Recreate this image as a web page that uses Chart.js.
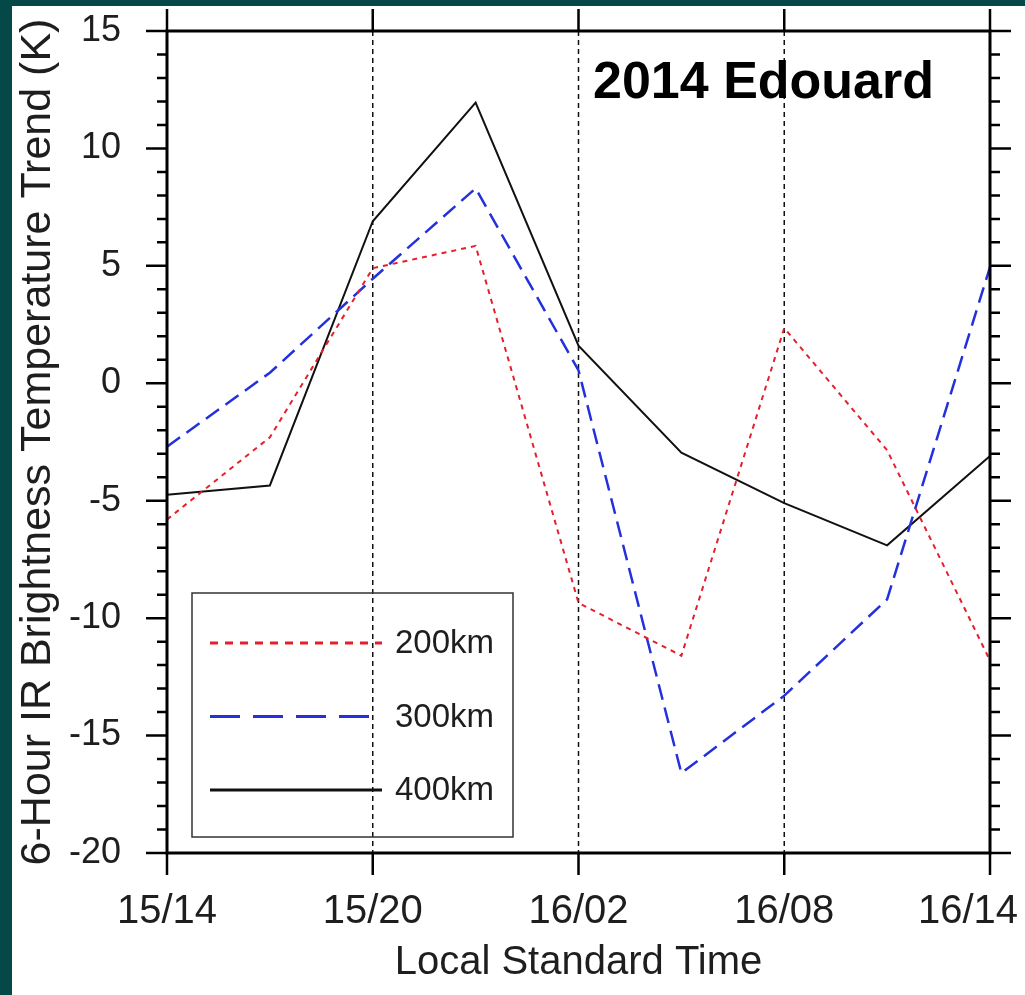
<!DOCTYPE html>
<html>
<head>
<meta charset="utf-8">
<title>2014 Edouard</title>
<script src="https://cdn.jsdelivr.net/npm/chart.js@4"></script>
<style>
    html, body { margin: 0; padding: 0; background: #044848; }
    #wrap { position: absolute; left: 12px; top: 6px; width: 1013px; height: 989px; background: #fff; }
</style>
</head>
<body>
<div id="wrap"><canvas id="myChart"></canvas></div>
<script>
// local standard time, day/hour, every 3 hours
const timeLabels = ['15/14', '15/17', '15/20', '15/23', '16/02', '16/05', '16/08', '16/11', '16/14'];
// 6-hour IR brightness temperature trend (K) averaged within each radius
const trend200km = [-5.8, -2.3, 4.9, 5.85, -9.35, -11.6, 2.35, -2.85, -11.8];
const trend300km = [-2.7, 0.45, 4.45, 8.3, 0.55, -16.6, -13.3, -9.2, 4.95];
const trend400km = [-4.75, -4.35, 6.9, 11.95, 1.6, -2.95, -5.1, -6.9, -3.1];
const yTicks = [-20, -15, -10, -5, 0, 5, 10, 15];
const chartTitle = '2014 Edouard';

const FONT = "'Liberation Sans', Arial, Helvetica, sans-serif";
const TEXT = '#1e1e1e';

// which x labels get a major tick / label (every 6 hours)
function isMajor(i) { return i % 2 === 0; }

const framePlugin = {
    id: 'frame',
    beforeDatasetsDraw(chart) {
        const ctx = chart.ctx, ca = chart.chartArea, x = chart.scales.x;
        ctx.save();
        ctx.strokeStyle = '#111';
        ctx.lineWidth = 1.5;
        ctx.setLineDash([5, 4]);
        timeLabels.forEach((t, i) => {
            if (!isMajor(i) || i === 0 || i === timeLabels.length - 1) return;
            const px = x.getPixelForValue(i);
            ctx.beginPath();
            ctx.moveTo(px, ca.top);
            ctx.lineTo(px, ca.bottom);
            ctx.stroke();
        });
        ctx.restore();
    },
    afterDatasetsDraw(chart) {
        const ctx = chart.ctx, ca = chart.chartArea;
        const x = chart.scales.x, y = chart.scales.y;
        ctx.save();
        ctx.strokeStyle = '#000';
        ctx.lineWidth = 3;
        ctx.strokeRect(ca.left, ca.top, ca.right - ca.left, ca.bottom - ca.top);

        // y ticks, both sides, pointing out
        ctx.lineWidth = 2.5;
        for (let v = y.min; v <= y.max; v++) {
            const py = y.getPixelForValue(v);
            const len = v % 5 === 0 ? 21 : 10;
            ctx.beginPath();
            ctx.moveTo(ca.left - len, py); ctx.lineTo(ca.left, py);
            ctx.moveTo(ca.right, py); ctx.lineTo(ca.right + len, py);
            ctx.stroke();
        }
        // x ticks top and bottom + labels
        ctx.font = '40px ' + FONT;
        ctx.fillStyle = TEXT;
        ctx.textAlign = 'center';
        ctx.textBaseline = 'middle';
        timeLabels.forEach((t, i) => {
            if (!isMajor(i)) return;
            const px = x.getPixelForValue(i);
            ctx.beginPath();
            ctx.moveTo(px, ca.top - 22); ctx.lineTo(px, ca.top);
            ctx.moveTo(px, ca.bottom); ctx.lineTo(px, ca.bottom + 22);
            ctx.stroke();
            const w = ctx.measureText(t).width;
            const lx = Math.min(px, chart.width - 7 - w / 2);
            ctx.fillText(t, lx, ca.bottom + 59);
        });

        // title inside the plot
        ctx.font = 'bold 52px ' + FONT;
        ctx.fillStyle = '#000';
        ctx.textAlign = 'left';
        ctx.textBaseline = 'alphabetic';
        ctx.fillText(chartTitle, ca.left + 426, ca.top + 67);

        // legend box
        const bx = ca.left + 25, by = ca.top + 562, bw = 321, bh = 244;
        ctx.lineWidth = 1.5;
        ctx.strokeStyle = '#333';
        ctx.strokeRect(bx, by, bw, bh);
        const legendDash = [[8, 7], [30, 13], []];
        ctx.font = '33px ' + FONT;
        ctx.textBaseline = 'middle';
        chart.data.datasets.forEach((ds, i) => {
            const ly = by + 50 + i * 73.5;
            ctx.strokeStyle = ds.borderColor;
            ctx.lineWidth = 3;
            ctx.setLineDash(legendDash[i]);
            ctx.beginPath();
            ctx.moveTo(bx + 18, ly);
            ctx.lineTo(bx + 190, ly);
            ctx.stroke();
            ctx.setLineDash([]);
            ctx.fillStyle = TEXT;
            ctx.fillText(ds.label, bx + 203, ly + 1);
        });
        ctx.restore();
    }
};

const ctx = document.getElementById('myChart').getContext('2d');
const myChart = new Chart(ctx, {
    type: 'line',
    data: {
        labels: timeLabels,
        datasets: [{
            label: '200km',
            data: trend200km,
            borderColor: '#e5202c',
            borderWidth: 2,
            borderDash: [5, 5]
        }, {
            label: '300km',
            data: trend300km,
            borderColor: '#2430dc',
            borderWidth: 2.5,
            borderDash: [16, 8]
        }, {
            label: '400km',
            data: trend400km,
            borderColor: '#111111',
            borderWidth: 2
        }]
    },
    options: {
        responsive: true,
        maintainAspectRatio: false,
        animation: false,
        elements: { point: { radius: 0, hoverRadius: 0 }, line: { tension: 0 } },
        layout: { padding: { top: 25, right: 35, left: 0, bottom: 0 } },
        plugins: { legend: { display: false }, tooltip: { enabled: false } },
        scales: {
            x: {
                type: 'category',
                offset: false,
                grid: { display: false, drawTicks: false },
                border: { display: false },
                ticks: { display: false },
                title: {
                    display: true,
                    text: 'Local Standard Time',
                    color: TEXT,
                    font: { family: FONT, size: 40 },
                    padding: { top: 0, bottom: 8 }
                },
                afterFit(scale) {
                    scale.height = 142;
                    scale.paddingLeft = 0;
                    scale.paddingRight = 0;
                }
            },
            y: {
                min: -20,
                max: 15,
                afterBuildTicks(scale) {
                    scale.ticks = yTicks.map(v => ({ value: v }));
                },
                grid: { display: false, drawTicks: false },
                border: { display: false },
                ticks: {
                    color: TEXT,
                    padding: 46,
                    font: { family: FONT, size: 36 }
                },
                title: {
                    display: true,
                    text: '6-Hour IR Brightness Temperature Trend (K)',
                    color: TEXT,
                    font: { family: FONT, size: 43 },
                    padding: { top: 0, bottom: 0 }
                },
                afterFit(scale) {
                    scale.width = 155;
                    scale.paddingTop = 0;
                    scale.paddingBottom = 0;
                }
            }
        }
    },
    plugins: [framePlugin]
});
</script>
</body>
</html>
